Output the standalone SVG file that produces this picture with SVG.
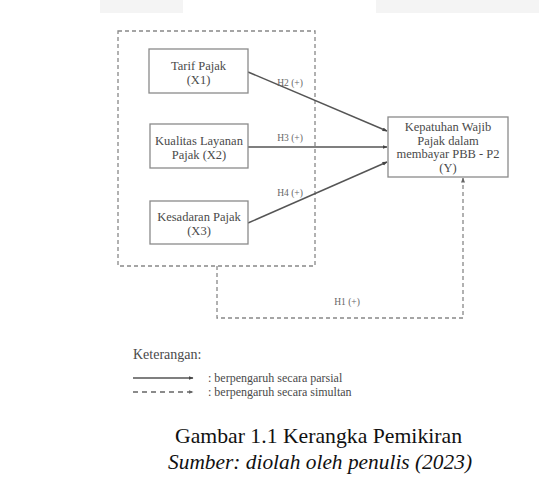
<svg xmlns="http://www.w3.org/2000/svg" width="539" height="478" viewBox="0 0 539 478">
<defs>
<style>
.box{fill:#fff;stroke:#8a8a8a;stroke-width:1.3}
.t{font-family:"Liberation Serif","Times New Roman",serif;fill:#4a4a4a;text-anchor:middle}
.bt{font-size:12.5px}
.lbl{font-size:9.5px;fill:#666}
.solid{fill:none;stroke:#555;stroke-width:1.5}
.dash{fill:none;stroke:#888;stroke-width:1.3;stroke-dasharray:4 3}
</style>
<marker id="ah" viewBox="0 0 10 10" refX="9" refY="5" markerWidth="5" markerHeight="5" orient="auto" markerUnits="userSpaceOnUse">
<path d="M0,1 L10,5 L0,9 z" fill="#444"/>
</marker>
<marker id="ad" viewBox="0 0 10 10" refX="9" refY="5" markerWidth="5" markerHeight="5" orient="auto" markerUnits="userSpaceOnUse">
<path d="M0,1 L10,5 L0,9 z" fill="#666"/>
</marker>
</defs>
<rect width="539" height="478" fill="#fff"/>
<rect x="100" y="0" width="83" height="13" fill="#f4f4f4"/>
<rect x="376" y="0" width="163" height="13" fill="#f4f4f4"/>

<g id="connectors">
<rect x="118" y="31" width="197" height="235" class="dash"/>
<line x1="248" y1="72" x2="387" y2="131" class="solid" marker-end="url(#ah)"/>
<line x1="248" y1="147" x2="387" y2="147" class="solid" marker-end="url(#ah)"/>
<line x1="248" y1="223" x2="387" y2="162" class="solid" marker-end="url(#ah)"/>
<polyline points="217,266 217,318 463,318 463,178" class="dash" marker-end="url(#ad)"/>
<text x="290" y="86" class="t lbl">H2 (+)</text>
<text x="290" y="141" class="t lbl">H3 (+)</text>
<text x="290" y="196" class="t lbl">H4 (+)</text>
<text x="347" y="305" class="t lbl">H1 (+)</text>
</g>

<g id="x1">
<rect x="149" y="49" width="99" height="44" class="box"/>
<text x="198.5" y="70" class="t bt">Tarif Pajak</text>
<text x="198.5" y="84" class="t bt">(X1)</text>
</g>
<g id="x2">
<rect x="150" y="124" width="98" height="44" class="box"/>
<text x="199" y="145" class="t bt">Kualitas Layanan</text>
<text x="199" y="159" class="t bt">Pajak (X2)</text>
</g>
<g id="x3">
<rect x="150" y="201" width="98" height="43" class="box"/>
<text x="199" y="221" class="t bt">Kesadaran Pajak</text>
<text x="199" y="235" class="t bt">(X3)</text>
</g>
<g id="y">
<rect x="388" y="117" width="120" height="60" class="box"/>
<text x="448" y="131" class="t bt">Kepatuhan Wajib</text>
<text x="448" y="145" class="t bt">Pajak dalam</text>
<text x="448" y="158" class="t bt">membayar PBB - P2</text>
<text x="448" y="172" class="t bt">(Y)</text>
</g>

<g id="legend">
<text x="133" y="359" class="t" style="text-anchor:start;font-size:14px">Keterangan:</text>
<line x1="133" y1="378" x2="193" y2="378" stroke="#555" stroke-width="1.3" marker-end="url(#ah)"/>
<line x1="133" y1="392" x2="193" y2="392" stroke="#666" stroke-width="1.3" stroke-dasharray="5 4" marker-end="url(#ad)"/>
<text x="208" y="382" class="t" style="text-anchor:start;font-size:12px">: berpengaruh secara parsial</text>
<text x="208" y="396" class="t" style="text-anchor:start;font-size:12px">: berpengaruh secara simultan</text>
</g>

<g id="caption">
<text x="318.5" y="443" class="t" style="font-size:21px;fill:#111" textLength="287" lengthAdjust="spacingAndGlyphs">Gambar 1.1 Kerangka Pemikiran</text>
<text x="320" y="469" class="t" style="font-size:21px;font-style:italic;fill:#111" textLength="304" lengthAdjust="spacingAndGlyphs">Sumber: diolah oleh penulis (2023)</text>
</g>
</svg>
